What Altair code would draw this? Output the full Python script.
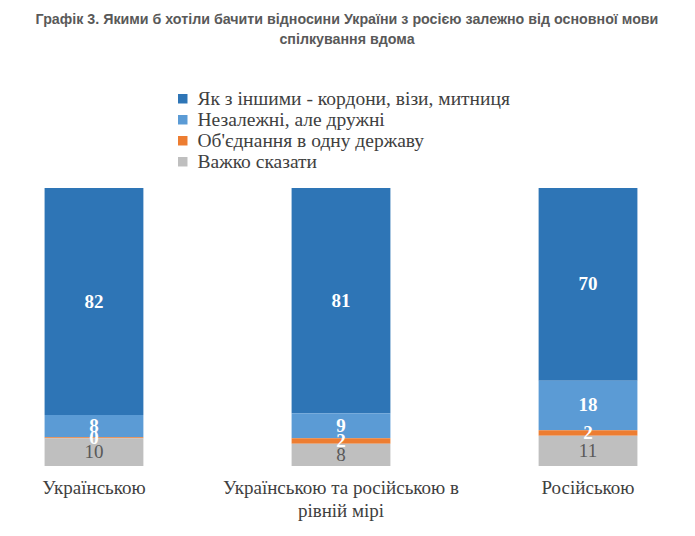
import altair as alt
import pandas as pd

categories = ["Українською", "Українською та російською в рівній мірі", "Російською"]
series = ["Як з іншими - кордони, візи, митниця", "Незалежні, але дружні",
          "Об'єднання в одну державу", "Важко сказати"]
vals_border = [82, 81, 70]
vals_friendly = [8, 9, 18]
vals_union = [0.4, 2, 2]
vals_hard = [10, 8, 11]
colors = ["#2E75B6", "#5B9BD5", "#ED7D31", "#BFBFBF"]

rows = []
for i, c in enumerate(categories):
    for s_idx, (s, v) in enumerate(zip(series, [vals_border[i], vals_friendly[i], vals_union[i], vals_hard[i]])):
        rows.append({"cat": c, "series": s, "value": v, "order": s_idx})
df = pd.DataFrame(rows)

base = alt.Chart(df).transform_stack(
    stack="value", groupby=["cat"], as_=["y0", "y1"], offset="normalize",
    sort=[alt.SortField("order", order="descending")]
).transform_calculate(
    mid="(datum.y0 + datum.y1) / 2",
    label="format(datum.value, '.0f')"
)

x_enc = alt.X("cat:N", sort=categories, title=None,
              scale=alt.Scale(paddingInner=0.6, paddingOuter=0.14),
              axis=alt.Axis(labelAngle=0, ticks=False, domain=False,
                            labelFont="Liberation Serif", labelFontSize=19,
                            labelColor="#404040", labelPadding=12, labelLimit=400,
                            labelLineHeight=23,
                            labelExpr="datum.value == 'Українською та російською в рівній мірі' ? ['Українською та російською в', 'рівній мірі'] : datum.value"))

y_scale = alt.Scale(domain=[0, 1])

bars = base.mark_bar().encode(
    x=x_enc,
    y=alt.Y("y0:Q", axis=None, scale=y_scale),
    y2="y1:Q",
    color=alt.Color("series:N", sort=series,
                    scale=alt.Scale(domain=series, range=colors),
                    legend=alt.Legend(title=None, orient="none", legendX=163, legendY=-99,
                                      symbolType="square", symbolSize=90,
                                      labelFont="Liberation Serif", labelFontSize=19.5,
                                      labelColor="#404040", rowPadding=0, labelOffset=5,
                                      symbolStrokeWidth=0, labelLimit=500)),
)

white_labels = base.transform_filter(
    "datum.order < 3"
).mark_text(font="Liberation Serif", fontSize=19, fontWeight="bold", color="white",
            baseline="middle").encode(
    x=alt.X("cat:N", sort=categories),
    y=alt.Y("mid:Q", scale=y_scale),
    text="label:N",
)

gray_labels = base.transform_filter(
    "datum.order == 3"
).mark_text(font="Liberation Serif", fontSize=19, color="#595959",
            baseline="middle").encode(
    x=alt.X("cat:N", sort=categories),
    y=alt.Y("mid:Q", scale=y_scale),
    text="label:N",
)

chart = alt.layer(bars, white_labels, gray_labels).properties(
    width=662, height=278,
    title=alt.Title(
        ["Графік 3. Якими б хотіли бачити відносини України з росією залежно від основної мови",
         "спілкування вдома"],
        font="Liberation Sans", fontSize=14.25, fontWeight="bold", color="#595959",
        anchor="middle", offset=42, lineHeight=20, dx=6),
    padding={"left": 10, "top": 188, "right": 23, "bottom": 70},
    autosize="none",
    background="white",
).configure_view(stroke=None, strokeWidth=0)

chart.save("out.html", embed_options={"renderer": "svg", "actions": False})
